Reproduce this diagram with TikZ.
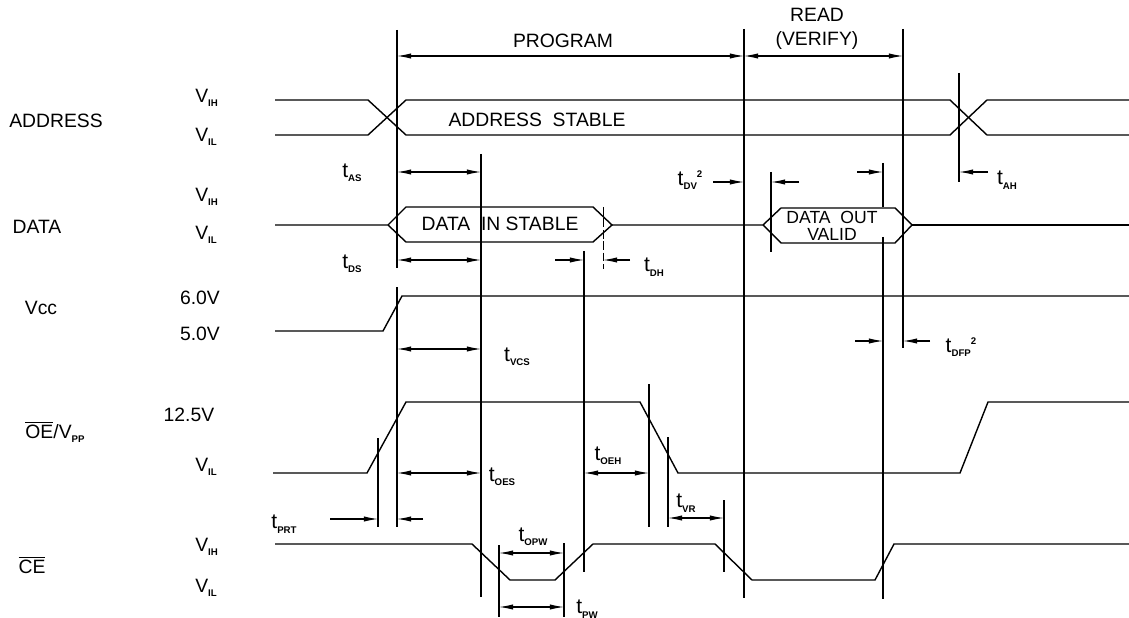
\documentclass[tikz,border=0pt]{standalone}
\usepackage{fontspec}
\setmainfont{Liberation Sans}
\usetikzlibrary{arrows.meta}
\newcommand{\lo}[1]{\raisebox{-0.4ex}{\fontsize{5.5}{6}\selectfont\bfseries #1}}
\newcommand{\hi}[1]{\raisebox{0.7ex}{\fontsize{5.5}{6}\selectfont\bfseries #1}}
\tikzstyle{sig} = [draw, line width=0.8pt]
\tikzstyle{ref} = [draw, line width=0.7pt]
\tikzstyle{dimline} = [draw, line width=0.6pt, {Latex[length=8pt,width=3pt]}-{Latex[length=8pt,width=3pt]}]
\tikzstyle{leader} = [draw, line width=0.6pt, -{Latex[length=8pt,width=3pt]}]
\tikzstyle{lbl} = [font=\fontsize{11}{12}\selectfont, inner sep=0pt]
\tikzstyle{tl} = [font=\fontsize{12}{13}\selectfont, inner sep=0pt]

\begin{document}
\begin{tikzpicture}[x=0.02cm, y=-0.02cm]
    \useasboundingbox (0,0) rectangle (1129,618);
    % Signal names and levels
    \node [lbl] (address) at (56,121) {ADDRESS};
    \node [lbl] (data) at (37,227) {DATA};
    \node [lbl] (vcc) at (41,308) {Vcc};
    \node [lbl] (oevpp) at (55,432) {$\overline{\mbox{OE}}$/V\lo{PP}};
    \node [lbl] (ce) at (32,565) {$\overline{\mbox{CE}}$};
    \node [lbl, anchor=west] (aih) at (195,98) {V\lo{IH}};
    \node [lbl, anchor=west] (ail) at (195,137) {V\lo{IL}};
    \node [lbl, anchor=west] (dih) at (195,197) {V\lo{IH}};
    \node [lbl, anchor=west] (dil) at (195,235) {V\lo{IL}};
    \node [lbl] (vsix) at (200,298) {6.0V};
    \node [lbl] (vfive) at (200,334) {5.0V};
    \node [lbl] (vpp) at (189,415) {12.5V};
    \node [lbl, anchor=west] (oil) at (195,467) {V\lo{IL}};
    \node [lbl, anchor=west] (cih) at (195,547) {V\lo{IH}};
    \node [lbl, anchor=west] (cil) at (195,588) {V\lo{IL}};

    % Reference lines
    \path [ref] (397,30) -- (397,268);
    \path [ref] (397,287) -- (397,527);
    \path [ref] (481,154) -- (481,597);
    \path [ref] (584,251) -- (584,572);
    \path [ref, line width=0.5pt, dash pattern=on 5pt off 1.5pt] (603,207) -- (603,269);
    \path [ref] (744,29) -- (744,598);
    \path [ref] (903,29) -- (903,348);
    \path [ref] (883,163) -- (883,207);
    \path [ref] (883,237) -- (883,599);
    \path [ref] (771,172) -- (771,252);
    \path [ref] (959,73) -- (959,182);
    \path [ref] (378,438) -- (378,527);
    \path [ref] (649,384) -- (649,527);
    \path [ref] (668,437) -- (668,527);
    \path [ref] (724,500) -- (724,572);
    \path [ref] (499,545) -- (499,617);
    \path [ref] (564,543) -- (564,617);

    % Signals
    \path [sig] (275,100) -- (368,100) -- (406,135) -- (950,135) -- (987,100) -- (1129,100);
    \path [sig] (275,135) -- (368,135) -- (406,100) -- (950,100) -- (987,135) -- (1129,135);
    \path [sig] (275,225) -- (388,225) -- (406,207) -- (593,207) -- (612,225) -- (593,242) -- (406,242) -- (388,225);
    \path [sig] (612,225) -- (763,225) -- (781,208) -- (895,208) -- (912,225) -- (895,243) -- (781,243) -- (763,225);
    \path [sig] (912,225) -- (1129,225);
    \path [sig] (275,331) -- (383,331) -- (402,296) -- (1129,296);
    \path [sig] (273,473) -- (367,473) -- (406,402) -- (640,402) -- (678,473) -- (960,473) -- (988,402) -- (1129,402);
    \path [sig] (275,544) -- (472,544) -- (510,580) -- (555,580) -- (593,544) -- (715,544) -- (752,580) -- (875,580) -- (894,544) -- (1129,544);
    \node [lbl] (stable) at (537,120) {ADDRESS\ \ STABLE};
    \node [lbl] (datain) at (500,224) {DATA\ \ IN\ STABLE};
    \node [lbl, align=center, font=\fontsize{10}{9.5}\selectfont] (dataout) at (832,226) {DATA\ \ OUT\\VALID};

    % Phases
    \path [dimline] (397,56) -- (744,56);
    \path [dimline] (744,56) -- (903,56);
    \node [lbl] (program) at (563,41) {PROGRAM};
    \node [lbl] (read) at (817,15) {READ};
    \node [lbl] (verify) at (817,41) {(VERIFY)};

    % Timing
    \path [dimline] (397,172) -- (481,172);
    \node [tl] (tas) at (352,173) {t\lo{AS}};
    \path [dimline] (397,260) -- (481,260);
    \node [tl] (tds) at (352,264) {t\lo{DS}};
    \path [leader] (555,260) -- (584,260);
    \path [leader] (630,260) -- (603,260);
    \node [tl] (tdh) at (654,267) {t\lo{DH}};
    \path [leader] (713,182) -- (744,182);
    \path [leader] (799,182) -- (771,182);
    \path [leader] (857,172) -- (883,172);
    \node [tl] (tdv) at (690,180) {t\lo{DV}\hi{2}};
    \path [leader] (988,172) -- (959,172);
    \node [tl] (tah) at (1007,180) {t\lo{AH}};
    \path [dimline] (397,349) -- (481,349);
    \node [tl] (tvcs) at (517,357) {t\lo{VCS}};
    \path [leader] (855,341) -- (883,341);
    \path [leader] (930,341) -- (903,341);
    \node [tl] (tdfp) at (961,347) {t\lo{DFP}\hi{2}};
    \path [dimline] (397,473) -- (481,473);
    \node [tl] (toes) at (502,477) {t\lo{OES}};
    \path [dimline] (584,473) -- (649,473);
    \node [tl] (toeh) at (608,456) {t\lo{OEH}};
    \path [dimline] (668,518) -- (724,518);
    \node [tl] (tvr) at (686,503) {t\lo{VR}};
    \path [leader] (330,519) -- (378,519);
    \path [leader] (423,519) -- (397,519);
    \node [tl] (tprt) at (284,524) {t\lo{PRT}};
    \path [dimline] (499,553) -- (564,553);
    \node [tl] (topw) at (533,537) {t\lo{OPW}};
    \path [dimline] (499,607) -- (564,607);
    \node [tl] (tpw) at (587,609) {t\lo{PW}};
\end{tikzpicture}
\end{document}
